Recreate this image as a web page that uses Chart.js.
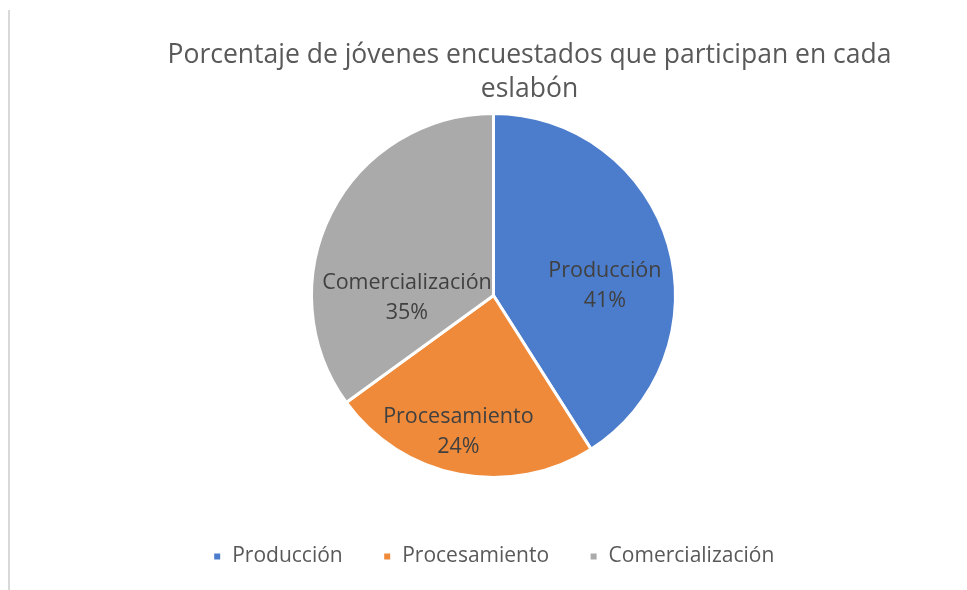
<!DOCTYPE html>
<html>
<head>
<meta charset="utf-8">
<script src="https://cdn.jsdelivr.net/npm/chart.js@4"></script>
<style>
  html, body { margin: 0; padding: 0; background: #fff; }
  #wrap { position: relative; width: 967px; height: 590px; }
  #frame { position: absolute; left: 8px; top: 10px; width: 2px; height: 580px; background: #d9d9d9; }
</style>
</head>
<body>
<div id="wrap">
  <div id="frame"></div>
  <canvas id="pieChart" width="967" height="590"></canvas>
</div>
<script>
// Data
const titleLines = ['Porcentaje de jóvenes encuestados que participan en cada', 'eslabón'];
const categories = ['Producción', 'Procesamiento', 'Comercialización'];
const shares = [41, 24, 35];
const sliceColors = ['#4c7dcc', '#ee8a3a', '#aaaaaa'];

const FONT = '"Open Sans", "DejaVu Sans", sans-serif';

// small nudges so labels sit where the original placed them
const labelNudge = [[3, 22], [-14, 26], [14, 54]];

// Title drawn by hand, it is offset to the right of the pie in the original
const titlePlugin = {
    id: 'offsetTitle',
    afterDraw(chart) {
        const ctx = chart.ctx;
        const cx = (chart.chartArea.left + chart.chartArea.right) / 2 + 36;
        ctx.save();
        ctx.font = '26.5px ' + FONT;
        ctx.fillStyle = '#595959';
        ctx.textAlign = 'center';
        ctx.textBaseline = 'middle';
        titleLines.forEach((line, i) => ctx.fillText(line, cx, 55 + i * 34));
        ctx.restore();
    }
};

// Labels inside slices: category name + percentage
const sliceLabels = {
    id: 'sliceLabels',
    afterDatasetsDraw(chart) {
        const ctx = chart.ctx;
        const meta = chart.getDatasetMeta(0);
        ctx.save();
        ctx.font = '21.5px ' + FONT;
        ctx.fillStyle = '#404040';
        ctx.textAlign = 'center';
        ctx.textBaseline = 'middle';
        meta.data.forEach((arc, i) => {
            const mid = (arc.startAngle + arc.endAngle) / 2;
            const r = arc.outerRadius * 0.62;
            const x = arc.x + Math.cos(mid) * r + labelNudge[i][0];
            const y = arc.y + Math.sin(mid) * r + labelNudge[i][1];
            ctx.fillText(categories[i], x, y - 15);
            ctx.fillText(shares[i] + '%', x, y + 15);
        });
        ctx.restore();
    }
};

new Chart(document.getElementById('pieChart').getContext('2d'), {
    type: 'pie',
    data: {
        labels: categories,
        datasets: [{
            data: shares,
            backgroundColor: sliceColors,
            borderColor: '#ffffff',
            borderWidth: 3,
            radius: 182
        }]
    },
    options: {
        responsive: false,
        animation: false,
        layout: {
            padding: { top: 85, bottom: 13, left: 20, right: 0 }
        },
        plugins: {
            title: { display: false },
            tooltip: { enabled: false },
            legend: {
                position: 'bottom',
                labels: {
                    boxWidth: 9,
                    boxHeight: 9,
                    padding: 40,
                    color: '#595959',
                    font: { family: FONT, size: 21 }
                }
            }
        }
    },
    plugins: [titlePlugin, sliceLabels]
});
</script>
</body>
</html>
